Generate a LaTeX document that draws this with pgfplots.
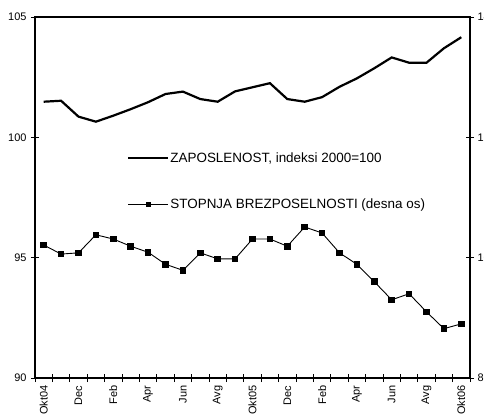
\documentclass[border=0pt]{standalone}
\usepackage{pgfplots}
\pgfplotsset{compat=1.18}
\usepackage{fontspec}
\setmainfont{Liberation Sans}

\pgfplotstableread{
x y
1 101.48
2 101.52
3 100.86
4 100.65
5 100.90
6 101.17
7 101.46
8 101.80
9 101.90
10 101.59
11 101.48
12 101.91
13 102.08
14 102.25
15 101.59
16 101.48
17 101.67
18 102.10
19 102.45
20 102.87
21 103.32
22 103.10
23 103.10
24 103.70
25 104.16
}\zaposlenost

\pgfplotstableread{
x y
1 10.21
2 10.06
3 10.08
4 10.38
5 10.31
6 10.19
7 10.09
8 9.89
9 9.79
10 10.08
11 9.98
12 9.98
13 10.31
14 10.31
15 10.19
16 10.51
17 10.41
18 10.08
19 9.89
20 9.60
21 9.30
22 9.40
23 9.10
24 8.82
25 8.90
}\brezposelnost

\pgfplotsset{
  legline/.style={legend image code/.code={\draw[##1] (0bp,0bp) -- (40bp,0bp);}},
  legmark/.style={legend image code/.code={\draw[##1, mark size=2.2bp, mark repeat=2, mark phase=2] plot coordinates {(0bp,0bp)(20bp,0bp)(40bp,0bp)};}},
}

\begin{document}
\begin{tikzpicture}
\pgfplotsset{
  every axis/.append style={
    scale only axis, width=435bp, height=361bp,
    xmin=0.5, xmax=25.5,
    axis line style={line width=1.1bp},
    tick style={line width=0.8bp, black},
    tick align=center,
    major tick length=8bp, minor tick length=8bp,
    tick label style={font=\fontsize{11}{13}\selectfont},
    /pgf/number format/assume math mode=true,
  }
}
\begin{axis}[
  at={(0,0)}, anchor=south west,
  ymin=90, ymax=105, ytick={90,95,100,105},
  ytick pos=left, xtick pos=bottom,
  xtick={1,3,...,25},
  xticklabels={Okt04,Dec,Feb,Apr,Jun,Avg,Okt05,Dec,Feb,Apr,Jun,Avg,Okt06},
  major x tick style={draw=none},
  minor xtick={0.5,1.5,...,25.5},
  x tick label style={rotate=90, anchor=east},
  yticklabel style={xshift=-1bp},
]
\addplot[black, line width=2.2bp] table[x=x,y=y]{\zaposlenost};
\end{axis}
\begin{axis}[
  at={(0,0)}, anchor=south west,
  ymin=8, ymax=14, ytick={8,10,12,14},
  axis y line*=right, axis x line=none,
  legend style={at={(0.2115,0.628)}, anchor=north west, draw=none, fill=none,
    font=\fontsize{13.5}{16}\selectfont, row sep=33bp, inner sep=0pt,
    nodes={inner sep=1bp}},
  legend cell align=left,
]
\addlegendimage{black, line width=2.2bp, legline}
\addlegendentry{ZAPOSLENOST, indeksi 2000=100}
\addplot[black, line width=0.9bp, mark=square*, mark size=2.8bp, mark options={solid, fill=black}, legmark]
  table[x=x,y=y]{\brezposelnost};
\addlegendentry{STOPNJA BREZPOSELNOSTI (desna os)}
\end{axis}
\pgfresetboundingbox
\path[use as bounding box] (-35bp,-36bp) rectangle (449bp,378bp);
\end{tikzpicture}
\end{document}
